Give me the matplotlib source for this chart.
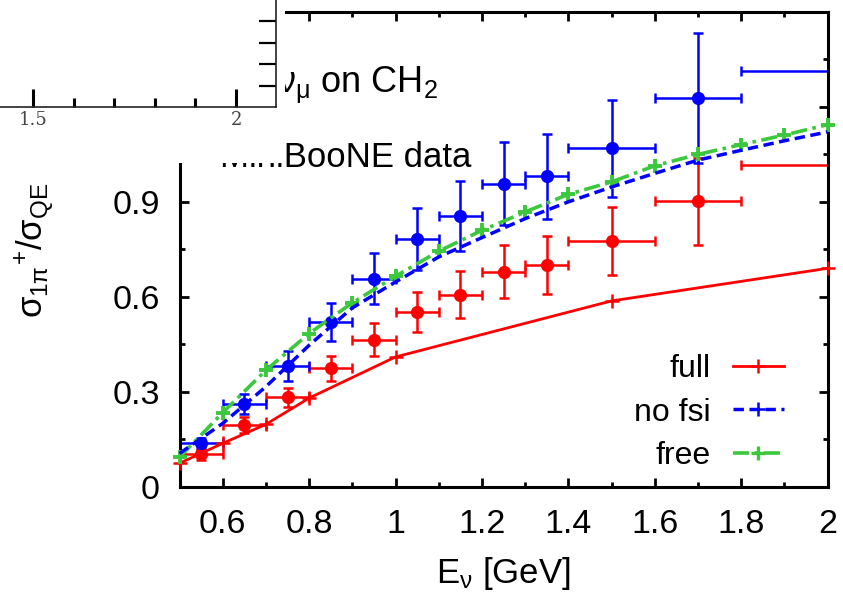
import matplotlib
matplotlib.use("Agg")
import matplotlib.pyplot as plt
from matplotlib.lines import Line2D

plt.rcParams['font.family'] = ['Liberation Sans', 'DejaVu Sans']
plt.rcParams['mathtext.fontset'] = 'custom'
plt.rcParams['mathtext.rm'] = 'Liberation Sans'
plt.rcParams['mathtext.it'] = 'Liberation Sans'
plt.rcParams['mathtext.sf'] = 'Liberation Sans'
plt.rcParams['mathtext.bf'] = 'Liberation Sans:bold'

# ---------------- data ----------------
e_data = [0.55, 0.65, 0.75, 0.85, 0.95, 1.05, 1.15, 1.25, 1.35, 1.5, 1.7, 2.2]
e_halfwidth = [0.05, 0.05, 0.05, 0.05, 0.05, 0.05, 0.05, 0.05, 0.05, 0.1, 0.1, 0.4]
red_data = [0.103, 0.195, 0.282, 0.374, 0.465, 0.552, 0.607, 0.679, 0.700, 0.777, 0.902, 1.018]
red_err = [0.02, 0.025, 0.03, 0.04, 0.052, 0.062, 0.075, 0.084, 0.092, 0.107, 0.137, 0.15]
blue_data = [0.137, 0.261, 0.381, 0.521, 0.657, 0.783, 0.855, 0.958, 0.981, 1.070, 1.228, 1.312]
blue_err = [0.018, 0.032, 0.048, 0.06, 0.08, 0.097, 0.11, 0.132, 0.134, 0.153, 0.205, 0.25]

e_curve = [0.5, 0.6, 0.7, 0.8, 0.9, 1.0, 1.1, 1.2, 1.3, 1.4, 1.5, 1.6, 1.7, 1.8, 1.9, 2.0]
free_curve = [0.093, 0.234, 0.368, 0.484, 0.581, 0.665, 0.744, 0.81, 0.868, 0.924,
              0.963, 1.014, 1.05, 1.081, 1.111, 1.144]
nofsi_curve = [0.105, 0.2, 0.316, 0.447, 0.565, 0.647, 0.726, 0.787, 0.847, 0.9,
               0.947, 0.99, 1.032, 1.063, 1.093, 1.121]
e_full = [0.5, 0.6, 0.7, 0.8, 1.0, 1.5, 2.0]
full_curve = [0.074, 0.137, 0.197, 0.28, 0.41, 0.587, 0.69]

x_major = [0.6, 0.8, 1.0, 1.2, 1.4, 1.6, 1.8, 2.0]
x_labels = ['0.6', '0.8', '1', '1.2', '1.4', '1.6', '1.8', '2']
y_major = [0, 0.3, 0.6, 0.9, 1.2, 1.5]
y_labels = ['0', '0.3', '0.6', '0.9', '1.2', '1.5']

legend_labels = ['full', 'no fsi', 'free']

# fragment of another chart pasted on top-left
frag_major = [1.5, 2.0]
frag_labels = ['1.5', '2']
frag_minor = [1.6, 1.7, 1.8, 1.9]
frag_yticks = [1, 2, 3, 4]

RED = '#ff0000'
BLUE = '#0000ff'
GREEN = '#3cc83c'

W, H = 843, 594
fig = plt.figure(figsize=(W / 100, H / 100), dpi=100)

# main axes (pixel box: left 179.5, right 827.5, top 12, bottom 486.7)
L, R, T, B = 179.5, 827.5, 12.0, 486.7
ax = fig.add_axes([L / W, 1 - B / H, (R - L) / W, (B - T) / H])
ax.set_xlim(0.5, 2.0)
ax.set_ylim(0, 1.5)

# data points
ax.errorbar(e_data, red_data, xerr=e_halfwidth, yerr=red_err, fmt='o', color=RED,
            ms=8.5, elinewidth=1.8, capsize=3.8, capthick=1.8, zorder=2)
ax.errorbar(e_data, blue_data, xerr=e_halfwidth, yerr=blue_err, fmt='o', color=BLUE,
            ms=8.5, elinewidth=1.8, capsize=3.8, capthick=1.8, zorder=2)

# model curves
ax.plot(e_full, full_curve, color=RED, lw=2.0, marker='+', ms=10, mew=1.8,
        clip_on=False, zorder=3)
ax.plot(e_curve, nofsi_curve, color=BLUE, lw=2.5, ls=(0, (3.0, 1.6)),
        clip_on=False, zorder=4)
ax.plot(e_curve, free_curve, color=GREEN, lw=2.6, ls=(0, (4.5, 1.5, 1.0, 1.5)),
        marker='+', ms=10.5, mew=2.8, clip_on=False, zorder=3)

# ticks
ax.set_xticks(x_major)
ax.set_xticklabels(x_labels)
ax.set_xticks([0.5 + 0.1 * i for i in range(16)], minor=True)
ax.set_yticks(y_major)
ax.set_yticklabels(y_labels)
ax.set_yticks([0.15 * i for i in range(11)], minor=True)
ax.tick_params(which='both', direction='in', top=True, right=True, width=2.0)
ax.tick_params(which='major', length=6.5, labelsize=24.5)
ax.tick_params(which='minor', length=3.6)
ax.tick_params(axis='x', which='major', pad=16)
ax.tick_params(axis='y', which='major', pad=14)
for s in ax.spines.values():
    s.set_linewidth(2.2)

# axis labels
fig.text(503.5 / W, 1 - 574 / H, r'E$_\nu$ [GeV]', ha='center', va='center', fontsize=25)
fig.text(35 / W, 1 - 250 / H, r'$\sigma_{1\pi}{}^{+}/\sigma_{\mathrm{QE}}$', ha='center',
         va='center', rotation=90, fontsize=25)

# annotations
ax.text((438 - L) / (R - L), (B - 93) / (B - T), r'$\nu_\mu$ on CH$_2$',
        transform=ax.transAxes, ha='right', va='baseline', fontsize=26)
ax.text((471 - L) / (R - L), (B - 167) / (B - T), 'MiniBooNE data',
        transform=ax.transAxes, ha='right', va='baseline', fontsize=25)

# legend
handles = [
    Line2D([], [], color=RED, lw=2.0, marker='+', ms=10, mew=1.8),
    Line2D([], [], color=BLUE, lw=2.5, ls=(0, (3.0, 1.6)), marker='+', ms=10, mew=1.8),
    Line2D([], [], color=GREEN, lw=2.6, ls=(0, (4.5, 1.5, 1.0, 1.5)), marker='+', ms=10, mew=2.4),
]
ax.legend(handles, legend_labels, loc='lower right', bbox_to_anchor=(784 / W, 1 - 471 / H),
          bbox_transform=fig.transFigure, frameon=False, markerfirst=False,
          fontsize=23, handlelength=1.6, handletextpad=0.7, labelspacing=0.42,
          borderpad=0, borderaxespad=0, numpoints=1)

# white cover with a fragment of another chart (top-left)
cover = fig.add_axes([0, 1 - 163 / H, 285 / W, 163 / H], zorder=10)
cover.set_facecolor('white')
cover.set_xticks([])
cover.set_yticks([])
for s in cover.spines.values():
    s.set_visible(False)

frag = fig.add_axes([0, 1 - 107 / H, 276 / W, 107 / H], zorder=11)
frag.patch.set_alpha(0)
frag.set_xlim(1.4187, 2.0985)
frag.set_ylim(0, 5)
frag.spines['top'].set_visible(False)
frag.spines['left'].set_visible(False)
frag.spines['bottom'].set_linewidth(1.2)
frag.spines['right'].set_linewidth(1.2)
frag.spines['bottom'].set_color('#222222')
frag.spines['right'].set_color('#222222')
frag.set_xticks(frag_major)
frag.set_xticklabels(frag_labels, family='DejaVu Serif', color='#444444')
frag.set_xticks(frag_minor, minor=True)
frag.yaxis.tick_right()
frag.set_yticks(frag_yticks)
frag.set_yticklabels([])
frag.tick_params(axis='x', which='major', direction='in', length=13, width=2.2,
                 labelsize=13, pad=3, color='black')
frag.tick_params(axis='x', which='minor', direction='in', length=6.5, width=2.2, color='black')
frag.tick_params(axis='y', which='major', direction='in', length=12, width=1.6, color='black')

fig.savefig('out.png', dpi=100)
